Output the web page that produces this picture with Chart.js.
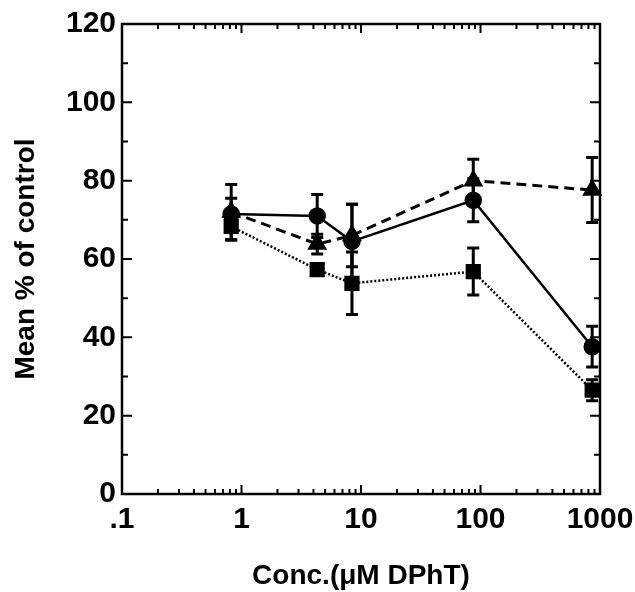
<!DOCTYPE html>
<html>
<head>
<meta charset="utf-8">
<script src="https://cdn.jsdelivr.net/npm/chart.js@4"></script>
<style>
  html, body { margin: 0; padding: 0; background: #fff; }
  #wrap { width: 635px; height: 592px; }
</style>
</head>
<body>
<div id="wrap"><canvas id="chart" width="635" height="592"></canvas></div>
<script>
// data
const concValues = [0.82, 4.3, 8.4, 87, 860];
const circleMean = [71.5, 71, 64.5, 75, 37.6];
const circleErr = [4, 5.5, 9.5, 5.5, 5.2];
const triangleMean = [72, 63.8, 66, 80, 77.6];
const triangleErr = [7, 2.5, 8, 5.5, 8.3];
const squareMean = [68.3, 57.3, 53.8, 56.8, 26.5];
const squareErr = [3.5, 1.5, 8, 6, 2.7];

const xTickValues = [0.1, 1, 10, 100, 1000];
const xTickLabels = ['.1', '1', '10', '100', '1000'];
const yTickValues = [0, 20, 40, 60, 80, 100, 120];

const FONT = 'Liberation Sans, Arial, Helvetica, sans-serif';

function toPoints(means) {
  return concValues.map((x, i) => ({ x: x, y: means[i] }));
}

// error bars under the markers
const errorBars = {
  id: 'errorBars',
  beforeDatasetsDraw(chart) {
    const ctx = chart.ctx;
    const xs = chart.scales.x, ys = chart.scales.y;
    ctx.save();
    ctx.strokeStyle = '#000';
    ctx.lineWidth = 3;
    chart.data.datasets.forEach(ds => {
      ds.data.forEach((p, i) => {
        const e = ds.errors[i];
        const px = xs.getPixelForValue(p.x);
        const top = ys.getPixelForValue(p.y + e);
        const bot = ys.getPixelForValue(p.y - e);
        ctx.beginPath();
        ctx.moveTo(px, top); ctx.lineTo(px, bot);
        ctx.moveTo(px - 6, top); ctx.lineTo(px + 6, top);
        ctx.moveTo(px - 6, bot); ctx.lineTo(px + 6, bot);
        ctx.stroke();
      });
    });
    ctx.restore();
  }
};

// box frame with inward ticks on all four sides
const frame = {
  id: 'frame',
  afterDraw(chart) {
    const ctx = chart.ctx;
    const a = chart.chartArea;
    const xs = chart.scales.x, ys = chart.scales.y;
    ctx.save();
    ctx.strokeStyle = '#000';
    ctx.lineWidth = 2.5;
    ctx.strokeRect(a.left, a.top, a.right - a.left, a.bottom - a.top);
    ctx.lineWidth = 2;
    ctx.beginPath();
    for (let v = 0; v <= 120; v += 10) {
      const py = ys.getPixelForValue(v);
      const len = v % 20 === 0 ? 10 : 6;
      ctx.moveTo(a.left, py); ctx.lineTo(a.left + len, py);
      ctx.moveTo(a.right, py); ctx.lineTo(a.right - len, py);
    }
    for (let d = 0.1; d < 1000; d *= 10) {
      for (let k = 1; k <= 10; k++) {
        const px = xs.getPixelForValue(d * k);
        const len = (k === 1 || k === 10) ? 9 : 5;
        ctx.moveTo(px, a.bottom); ctx.lineTo(px, a.bottom - len);
        ctx.moveTo(px, a.top); ctx.lineTo(px, a.top + len);
      }
    }
    ctx.stroke();
    ctx.restore();
  }
};

new Chart(document.getElementById('chart'), {
  type: 'scatter',
  data: {
    datasets: [
      {
        label: 'circles',
        data: toPoints(circleMean),
        errors: circleErr,
        showLine: true,
        borderColor: '#000',
        backgroundColor: '#000',
        borderWidth: 2.5,
        pointStyle: 'circle',
        pointRadius: 7.5,
        clip: false
      },
      {
        label: 'triangles',
        data: toPoints(triangleMean),
        errors: triangleErr,
        showLine: true,
        borderColor: '#000',
        backgroundColor: '#000',
        borderWidth: 3,
        borderDash: [10, 6],
        pointStyle: 'triangle',
        pointRadius: 8.5,
        clip: false
      },
      {
        label: 'squares',
        data: toPoints(squareMean),
        errors: squareErr,
        showLine: true,
        borderColor: '#000',
        backgroundColor: '#000',
        borderWidth: 2.5,
        borderDash: [2, 2],
        pointStyle: 'rect',
        pointRadius: 9,
        clip: false
      }
    ]
  },
  options: {
    responsive: false,
    animation: false,
    layout: { padding: { top: 24, right: 35, left: 0, bottom: 0 } },
    plugins: { legend: { display: false }, tooltip: { enabled: false } },
    elements: { line: { tension: 0 }, point: { borderWidth: 0 } },
    scales: {
      x: {
        type: 'logarithmic',
        min: 0.1,
        max: 1000,
        grid: { display: false, drawTicks: false },
        border: { display: false },
        afterBuildTicks: s => { s.ticks = xTickValues.map(v => ({ value: v })); },
        afterFit: s => { s.height = 98; s.paddingRight = 35; s.paddingLeft = 0; },
        ticks: {
          autoSkip: false,
          maxRotation: 0,
          padding: 8,
          color: '#000',
          font: { family: FONT, size: 30, weight: 'bold' },
          callback: (v) => {
            const i = xTickValues.indexOf(v);
            return i >= 0 ? xTickLabels[i] : '';
          }
        },
        title: {
          display: true,
          text: 'Conc.(\u03BCM DPhT)',
          color: '#000',
          font: { family: FONT, size: 28, weight: 'bold', lineHeight: 1 },
          padding: { top: 0, bottom: 2 }
        }
      },
      y: {
        min: 0,
        max: 120,
        grid: { display: false, drawTicks: false },
        border: { display: false },
        afterBuildTicks: s => { s.ticks = yTickValues.map(v => ({ value: v })); },
        afterFit: s => { s.width = 122; s.paddingTop = 0; s.paddingBottom = 0; },
        ticks: {
          padding: 6,
          color: '#000',
          font: { family: FONT, size: 30, weight: 'bold' }
        },
        title: {
          display: true,
          text: 'Mean % of control',
          color: '#000',
          font: { family: FONT, size: 28, weight: 'bold', lineHeight: 1 },
          padding: { top: 12, bottom: 0 }
        }
      }
    }
  },
  plugins: [errorBars, frame]
});
</script>
</body>
</html>
